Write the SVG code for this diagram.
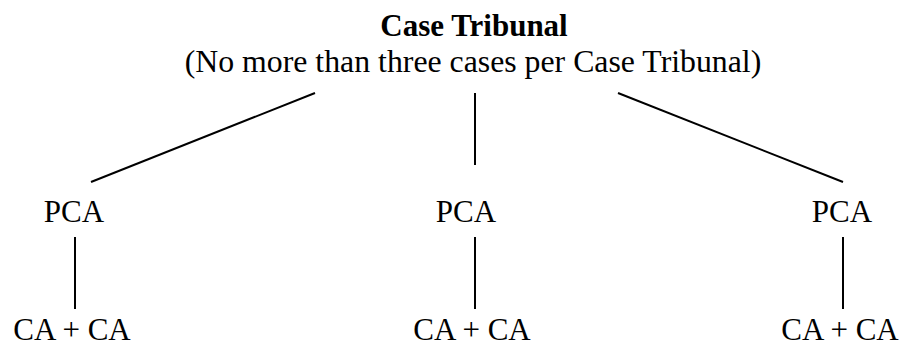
<svg xmlns="http://www.w3.org/2000/svg" width="904" height="342" viewBox="0 0 904 342">
<style>
text{font-family:"Liberation Serif","Times New Roman",serif;fill:#000;text-anchor:middle}
.t{font-size:31px}
.b{font-weight:bold}
.s{font-size:31.8px}
line{stroke:#000;stroke-width:2}
</style>
<rect width="904" height="342" fill="#fff"/>
<g id="connectors">
<line x1="315" y1="93" x2="91" y2="182"/>
<line x1="475" y1="93" x2="475" y2="165"/>
<line x1="618" y1="93" x2="843" y2="182"/>
<line x1="75" y1="237" x2="75" y2="309"/>
<line x1="475" y1="237" x2="475" y2="309"/>
<line x1="843" y1="237" x2="843" y2="309"/>
</g>
<g id="root">
<text class="t b" x="474" y="36">Case Tribunal</text>
<text class="s" x="473" y="72">(No more than three cases per Case Tribunal)</text>
</g>
<g id="pca1"><text class="t" x="74" y="222">PCA</text></g>
<g id="pca2"><text class="t" x="466" y="222">PCA</text></g>
<g id="pca3"><text class="t" x="842" y="222">PCA</text></g>
<g id="ca1"><text class="t" x="72" y="340">CA + CA</text></g>
<g id="ca2"><text class="t" x="472" y="340">CA + CA</text></g>
<g id="ca3"><text class="t" x="840" y="340">CA + CA</text></g>
</svg>
